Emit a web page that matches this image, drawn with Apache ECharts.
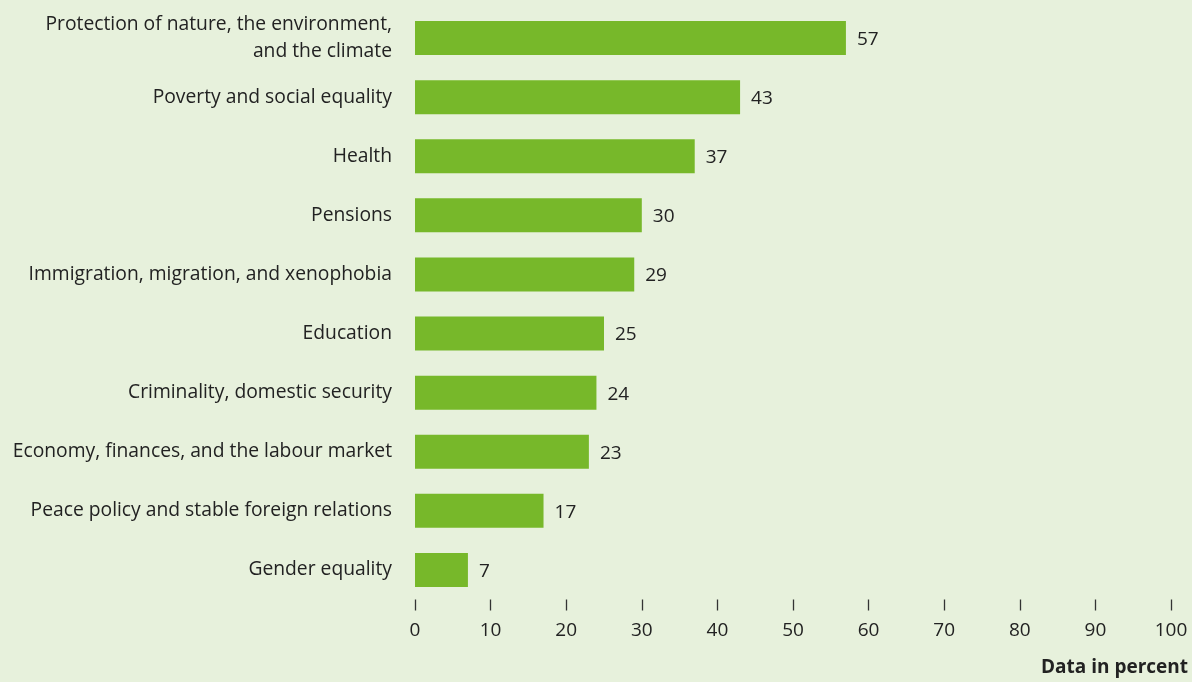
<!DOCTYPE html>
<html>
<head>
<meta charset="utf-8">
<script src="https://cdn.jsdelivr.net/npm/echarts@6/dist/echarts.min.js"></script>
<style>
  html, body { margin: 0; padding: 0; background: #e7f1dc; }
  #chart { width: 1192px; height: 682px; }
</style>
</head>
<body>
<div id="chart"></div>
<script>
// Topics, listed top to bottom
const categories = [
  'Protection of nature, the environment,\nand the climate',
  'Poverty and social equality',
  'Health',
  'Pensions',
  'Immigration, migration, and xenophobia',
  'Education',
  'Criminality, domestic security',
  'Economy, finances, and the labour market',
  'Peace policy and stable foreign relations',
  'Gender equality'
];
// Share of respondents, percent
const values = [57, 43, 37, 30, 29, 25, 24, 23, 17, 7];
const axisTitle = 'Data in percent';

const FONT = '"Open Sans", "Noto Sans", sans-serif';
const TEXT = '#222222';

const chart = echarts.init(document.getElementById('chart'), null, { renderer: 'canvas' });
chart.setOption({
  backgroundColor: '#e7f1dc',
  animation: false,
  grid: { left: 415, right: 21, top: 8.5, bottom: 82.5, containLabel: false },
  xAxis: {
    type: 'value',
    min: 0, max: 100, interval: 10,
    position: 'bottom',
    axisLine: { show: false },
    axisTick: { show: true, length: 11, lineStyle: { color: '#333', width: 1.3 } },
    splitLine: { show: false },
    axisLabel: { color: TEXT, fontSize: 19, fontFamily: FONT, margin: 22 }
  },
  yAxis: {
    type: 'category',
    data: categories,
    inverse: true,
    axisLine: { show: false },
    axisTick: { show: false },
    axisLabel: {
      color: TEXT, fontSize: 19.3, fontFamily: FONT, margin: 23,
      align: 'right', lineHeight: 27
    }
  },
  series: [{
    type: 'bar',
    data: values,
    barWidth: 34,
    itemStyle: { color: '#77b82a' },
    label: {
      show: true, position: 'right', distance: 11, offset: [0, 1.5],
      color: TEXT, fontSize: 19, fontFamily: FONT
    }
  }],
  graphic: [{
    type: 'text',
    right: 4, top: 658,
    style: {
      text: axisTitle, fill: TEXT,
      font: 'bold 19px ' + FONT, textAlign: 'right'
    }
  }]
});
</script>
</body>
</html>
